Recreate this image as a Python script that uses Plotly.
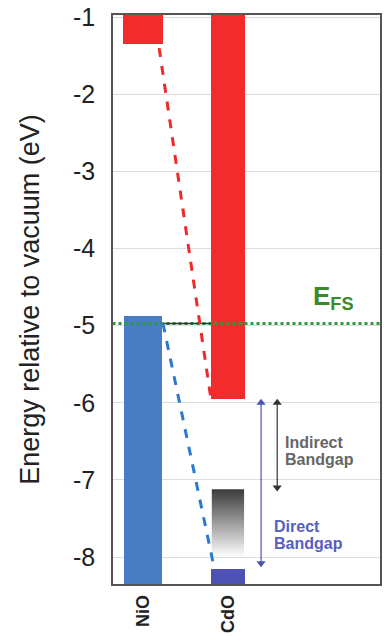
import plotly.graph_objects as go

materials = ["NiO", "CdO"]
mat_x = [0, 1]
cb_min = [-1.35, -5.95]          # conduction band minimum (eV)
vb_max = [-4.87, -8.15]          # valence band maximum (eV)
cdo_grad_top = -7.12
cdo_grad_bottom = -8.0
e_fs = -4.97
direct_gap = [-6.0, -8.08]       # blue arrow ends
indirect_gap = [-6.0, -7.1]      # black arrow ends
y_ticks = [-1, -2, -3, -4, -5, -6, -7, -8]
y_min, y_max = -8.35, -0.97

FONT = "Liberation Sans"
fig = go.Figure()

# E_FS dotted line (behind bars)
fig.add_trace(go.Scatter(x=[-0.5, 3], y=[e_fs, e_fs], mode="lines",
                         line=dict(color="#2e9a3a", width=3, dash="dot"),
                         hoverinfo="skip", showlegend=False))

# conduction bands
fig.add_trace(go.Bar(x=mat_x, y=[y_max + 0.5 - c for c in cb_min], base=cb_min,
                     width=[0.47, 0.41], marker=dict(color="#f22c2c", line_width=0),
                     showlegend=False))
# valence bands
fig.add_trace(go.Bar(x=mat_x, y=[v - (y_min - 0.5) for v in vb_max], base=[y_min - 0.5] * 2,
                     width=[0.45, 0.39], marker=dict(color=["#4a7cc4", "#4e52b4"], line_width=0),
                     showlegend=False))

# gradient block on CdO
gx0, gx1 = mat_x[1] - 0.19, mat_x[1] + 0.19
fig.add_trace(go.Scatter(x=[gx0, gx1, gx1, gx0, gx0],
                         y=[cdo_grad_top, cdo_grad_top, cdo_grad_bottom, cdo_grad_bottom, cdo_grad_top],
                         mode="lines", line=dict(width=0), fill="toself",
                         fillgradient=dict(type="vertical",
                                           colorscale=[[0, "#ffffff"], [1, "#3a3a3a"]]),
                         hoverinfo="skip", showlegend=False))

# dark line at E level between materials
fig.add_trace(go.Scatter(x=[mat_x[0] + 0.235, mat_x[1] - 0.205], y=[e_fs, e_fs], mode="lines",
                         line=dict(color="#333333", width=1.5), hoverinfo="skip", showlegend=False))

# dashed band alignment lines
fig.add_trace(go.Scatter(x=[mat_x[0] + 0.19, mat_x[1] - 0.2], y=[cb_min[0] - 0.05, cb_min[1]], mode="lines",
                         line=dict(color="#ee2a2a", width=3, dash="dash"), hoverinfo="skip", showlegend=False))
fig.add_trace(go.Scatter(x=[mat_x[0] + 0.235, mat_x[1] - 0.17], y=[vb_max[0] - 0.1, vb_max[1] + 0.05], mode="lines",
                         line=dict(color="#2a7ad0", width=3, dash="dash"), hoverinfo="skip", showlegend=False))

# bandgap arrows
for xa, ends, col in [(1.39, direct_gap, "#4a55b0"), (1.58, indirect_gap, "#333333")]:
    fig.add_trace(go.Scatter(x=[xa, xa], y=ends, mode="lines+markers",
                             line=dict(color=col, width=1.2),
                             marker=dict(symbol=["triangle-up", "triangle-down"], size=8, color=col),
                             hoverinfo="skip", showlegend=False))

fig.add_annotation(x=1.65, y=-6.51, xref="x", yref="y", text="<b>Indirect</b>",
                   showarrow=False, xanchor="left", font=dict(family=FONT, size=16, color="#666666"))
fig.add_annotation(x=1.65, y=-6.74, xref="x", yref="y", text="<b>Bandgap</b>",
                   showarrow=False, xanchor="left", font=dict(family=FONT, size=16, color="#666666"))
fig.add_annotation(x=1.52, y=-7.6, xref="x", yref="y", text="<b>Direct</b>",
                   showarrow=False, xanchor="left", font=dict(family=FONT, size=16, color="#5560c0"))
fig.add_annotation(x=1.52, y=-7.83, xref="x", yref="y", text="<b>Bandgap</b>",
                   showarrow=False, xanchor="left", font=dict(family=FONT, size=16, color="#5560c0"))
fig.add_annotation(x=1.98, y=-4.64, xref="x", yref="y", text="<b>E<sub>FS</sub></b>",
                   showarrow=False, xanchor="left",
                   font=dict(family=FONT, size=26, color="#3a8a2a"))

fig.update_layout(
    width=384, height=636,
    margin=dict(l=113, r=4, t=15, b=52),
    plot_bgcolor="white", paper_bgcolor="white",
    barmode="overlay", bargap=0,
    font=dict(family=FONT, color="#222222"),
)
fig.update_xaxes(range=[-0.353, 2.79], tickmode="array", tickvals=mat_x,
                 ticktext=["<b>%s</b>" % m for m in materials], tickangle=-90,
                 tickfont=dict(size=18, color="#222222"), showgrid=False, zeroline=False,
                 showline=True, linecolor="#555555", linewidth=1.5, mirror=True, ticks="",
                 ticklabelstandoff=2, automargin=False)
fig.update_yaxes(range=[y_min, y_max], tickmode="array", tickvals=y_ticks,
                 ticktext=[str(t) for t in y_ticks], tickfont=dict(size=25, color="#222222"),
                 showgrid=True, gridcolor="#dddddd", gridwidth=1, zeroline=False,
                 showline=True, linecolor="#555555", linewidth=1.5, mirror=True, ticks="",
                 ticklabelstandoff=11, automargin=False,
                 title=dict(text="Energy relative to vacuum (eV)",
                            font=dict(size=27, color="#222222"), standoff=26))

fig.write_html("out.html", config={"displayModeBar": False},
               post_script="document.body.style.margin='0';")
